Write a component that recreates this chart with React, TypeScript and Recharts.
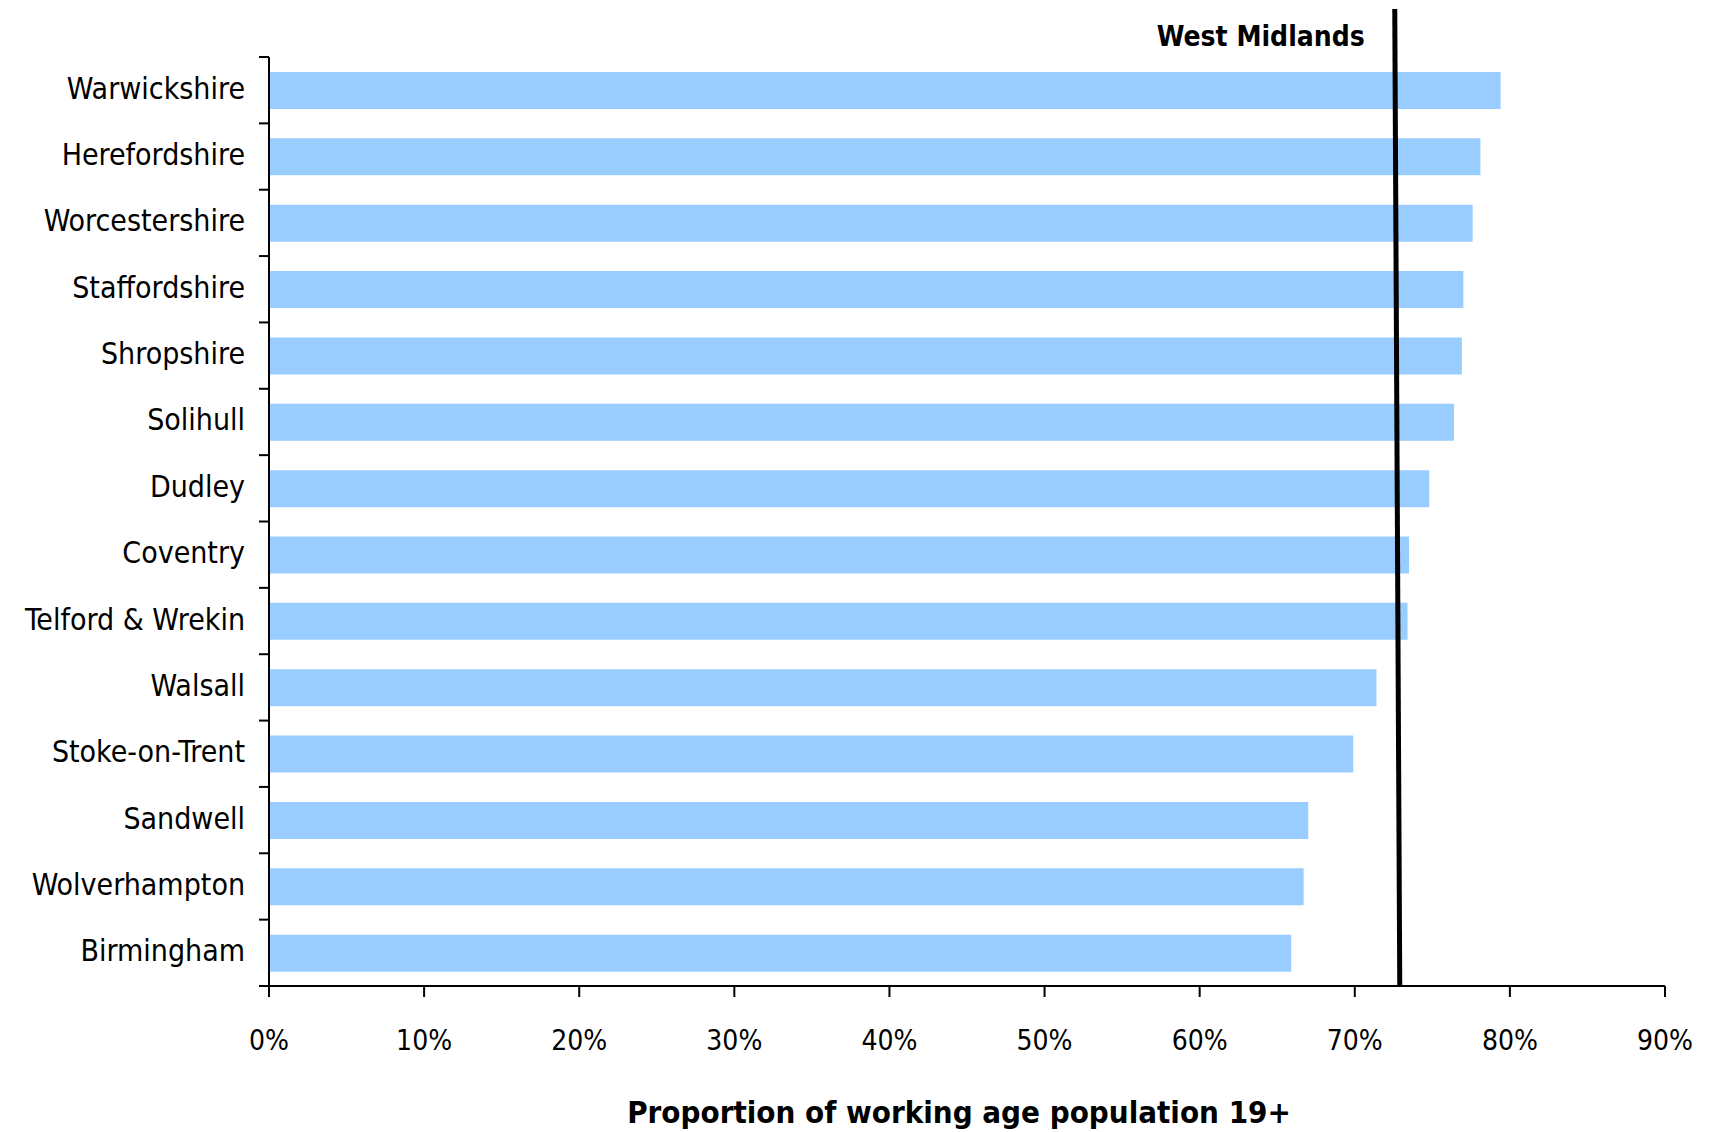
import { BarChart, Bar, XAxis, YAxis, ReferenceLine } from 'recharts'

const categories = [
  'Warwickshire',
  'Herefordshire',
  'Worcestershire',
  'Staffordshire',
  'Shropshire',
  'Solihull',
  'Dudley',
  'Coventry',
  'Telford & Wrekin',
  'Walsall',
  'Stoke-on-Trent',
  'Sandwell',
  'Wolverhampton',
  'Birmingham',
]
const proportion = [79.4, 78.1, 77.6, 77.0, 76.9, 76.4, 74.8, 73.5, 73.4, 71.4, 69.9, 67.0, 66.7, 65.9]
const xTicks = [0, 10, 20, 30, 40, 50, 60, 70, 80, 90]
const westMidlands = 72.9

const data = categories.map((name, i) => ({ name, value: proportion[i] }))

const W = 1709
const H = 1132
const MARGIN = { top: 57, right: 44, bottom: 0, left: 0 }
const YAXIS_W = 269
const XAXIS_H = 146
const PLOT_H = H - MARGIN.top - MARGIN.bottom - XAXIS_H
const AXIS_X = MARGIN.left + YAXIS_W

const FONT = '"DejaVu Sans Condensed", "DejaVu Sans", sans-serif'

function CategoryTick(props: any) {
  const { y, payload, index } = props
  const band = PLOT_H / categories.length
  const last = index === categories.length - 1
  return (
    <g>
      <line x1={AXIS_X - 10} x2={AXIS_X} y1={y - band / 2} y2={y - band / 2} stroke="#000" strokeWidth={2} />
      {last && (
        <line x1={AXIS_X - 10} x2={AXIS_X} y1={y + band / 2} y2={y + band / 2} stroke="#000" strokeWidth={2} />
      )}
      <text
        x={AXIS_X - 24}
        y={y - 2}
        textAnchor="end"
        dominantBaseline="central"
        fontFamily={FONT}
        fontSize={30}
        fill="#000"
      >
        {payload.value}
      </text>
    </g>
  )
}

function AverageLine(props: any) {
  const { x1, x2, y1, y2 } = props
  const bottom = Math.max(y1, y2)
  const bx = y1 > y2 ? x1 : x2
  // the reference line leans a touch and runs up past the plot top
  return (
    <g>
      <line x1={bx - 5} y1={9} x2={bx} y2={bottom} stroke="#000" strokeWidth={5} />
      <text
        x={bx - 35}
        y={36}
        textAnchor="end"
        dominantBaseline="central"
        fontFamily={FONT}
        fontWeight="bold"
        fontSize={28}
        fill="#000"
      >
        West Midlands
      </text>
    </g>
  )
}

export default function App() {
  return (
    <div style={{ position: 'fixed', left: 0, top: 0, width: W, height: H, background: '#fff' }}>
      <BarChart width={W} height={H} data={data} layout="vertical" margin={MARGIN}>
        <XAxis
          type="number"
          domain={[0, 90]}
          ticks={xTicks}
          tickFormatter={(v) => `${v}%`}
          height={XAXIS_H}
          axisLine={{ stroke: '#000', strokeWidth: 2 }}
          tickLine={{ stroke: '#000', strokeWidth: 2 }}
          tickSize={11}
          tickMargin={33}
          tick={{ fill: '#000', fontSize: 28, fontFamily: FONT }}
          label={{
            value: 'Proportion of working age population 19+',
            position: 'insideBottom',
            offset: 9,
            dx: -8,
            fill: '#000',
            fontSize: 31,
            fontWeight: 'bold',
            fontFamily: FONT,
          }}
        />
        <YAxis
          type="category"
          dataKey="name"
          width={YAXIS_W}
          axisLine={{ stroke: '#000', strokeWidth: 2 }}
          tickLine={false}
          tick={<CategoryTick />}
          interval={0}
        />
        <Bar dataKey="value" fill="#99CCFF" barSize={37} isAnimationActive={false} />
        <ReferenceLine x={westMidlands} ifOverflow="visible" shape={<AverageLine />} />
      </BarChart>
    </div>
  )
}
